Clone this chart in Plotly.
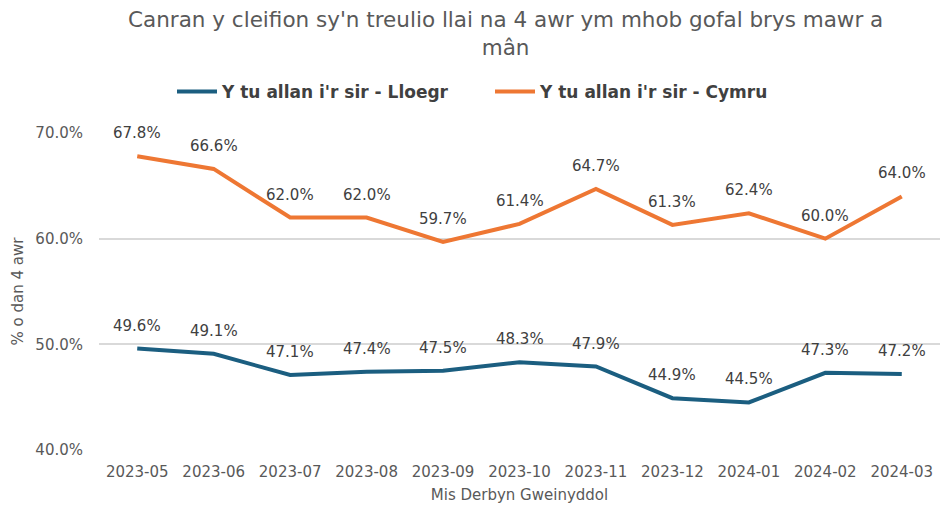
import plotly.graph_objects as go

months = ["2023-05", "2023-06", "2023-07", "2023-08", "2023-09", "2023-10",
          "2023-11", "2023-12", "2024-01", "2024-02", "2024-03"]
lloegr = [49.6, 49.1, 47.1, 47.4, 47.5, 48.3, 47.9, 44.9, 44.5, 47.3, 47.2]
cymru = [67.8, 66.6, 62.0, 62.0, 59.7, 61.4, 64.7, 61.3, 62.4, 60.0, 64.0]
y_ticks = [40, 50, 60, 70]
y_tick_text = ["40.0%", "50.0%", "60.0%", "70.0%"]

title_text = "Canran y cleifion sy'n treulio llai na 4 awr ym mhob gofal brys mawr a<br>mân"
name_l = "Y tu allan i'r sir - Lloegr"
name_c = "Y tu allan i'r sir - Cymru"
col_l = "#1B5E80"
col_c = "#EE7733"
FONT = "DejaVu Sans"

W, H = 941, 506
ML, MR, MT, MB = 99, 1, 133, 56
PW, PH = W - ML - MR, H - MT - MB

fig = go.Figure()
fig.add_trace(go.Scatter(x=months, y=lloegr, mode="lines", name=name_l,
                         line=dict(color=col_l, width=4)))
fig.add_trace(go.Scatter(x=months, y=cymru, mode="lines", name=name_c,
                         line=dict(color=col_c, width=4)))

for series in (lloegr, cymru):
    for m, v in zip(months, series):
        fig.add_annotation(x=m, y=v, text=f"{v:.1f}%", showarrow=False,
                           yshift=23,
                           font=dict(family=FONT, size=15, color="#404040"))

# chart title as a paper-anchored annotation
fig.add_annotation(text=title_text, xref="paper", yref="paper",
                   x=(505 - ML) / PW, y=(H - MB - 5) / PH,
                   xanchor="center", yanchor="top", showarrow=False,
                   font=dict(family=FONT, size=21.5, color="#595959"))

fig.update_layout(
    width=W, height=H,
    margin=dict(l=ML, r=MR, t=MT, b=MB),
    paper_bgcolor="white", plot_bgcolor="white",
    legend=dict(orientation="h", xref="container", x=172 / W, xanchor="left",
                yref="container", y=1 - 92 / H, yanchor="middle",
                font=dict(family=FONT, size=17, color="#404040", weight="bold"),
                itemwidth=40, entrywidth=263, entrywidthmode="pixels",
                bgcolor="rgba(0,0,0,0)"),
    showlegend=True,
)
fig.update_xaxes(type="category", range=[-0.5, len(months) - 0.5],
                 showgrid=False, showline=False, zeroline=False,
                 ticks="outside", ticklen=8, tickcolor="rgba(0,0,0,0)",
                 tickfont=dict(family=FONT, size=15, color="#595959"),
                 title=dict(text="Mis Derbyn Gweinyddol", standoff=9,
                            font=dict(family=FONT, size=15, color="#595959")))
fig.update_yaxes(range=[40, 70], tickvals=y_ticks, ticktext=y_tick_text,
                 showgrid=True, gridcolor="#D9D9D9", gridwidth=1.5,
                 zeroline=False, showline=False,
                 ticks="outside", ticklen=12, tickcolor="rgba(0,0,0,0)",
                 tickfont=dict(family=FONT, size=15, color="#595959"),
                 title=dict(text="% o dan 4 awr", standoff=8,
                            font=dict(family=FONT, size=15, color="#595959")))

fig.write_html("out.html", config={"displayModeBar": False},
               post_script="document.body.style.margin='0';")
